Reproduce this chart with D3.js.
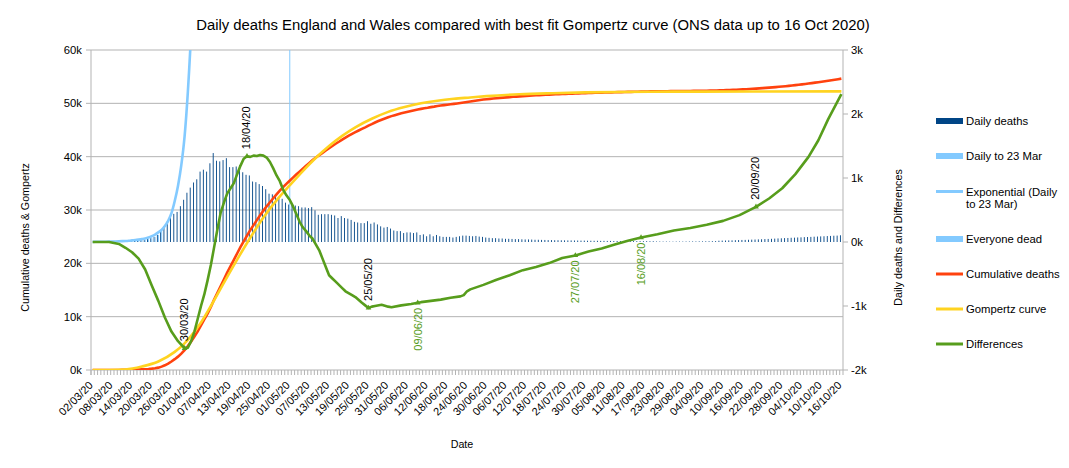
<!DOCTYPE html>
<html>
<head>
<meta charset="utf-8">
<script src="https://cdn.jsdelivr.net/npm/d3@7/dist/d3.min.js"></script>
<style>
  body { margin: 0; background: #fff; }
  svg { font-family: "Liberation Sans", Arial, sans-serif; }
</style>
</head>
<body>
<svg id="chart" width="1069" height="468"></svg>
<script>
// ---- data ----
// one value per day starting 2 Mar 2020
const startDate = new Date(2020, 2, 2);

const dailyDeaths = [
  0, 0, 0, 0, 1, 1, 2, 3, 3, 5, 7, 10, 13, 18, 24, 30,
  30, 45, 60, 80, 110, 190, 250, 320, 390, 440, 470, 560, 660, 770, 850, 930, 980,
  1100, 1130, 1100, 1230, 1390, 1270, 1260, 1280, 1310, 1170, 1170, 1180,
  1200, 1090, 1050, 1040, 945, 935, 905, 875, 825, 755, 745, 715, 695, 675, 615, 585, 580, 570, 560, 540, 540, 530,
  545, 495, 425, 435, 435, 435, 425, 415, 375, 405, 375, 365, 345, 315, 305, 295, 295, 325, 285, 305, 275, 245, 225, 235,
  210, 180, 170, 170, 140, 150, 150, 140, 150, 110, 120, 90, 120, 90, 110, 90, 80, 80, 80, 70, 80, 90, 100,
  100, 95, 90, 95, 85, 80,
  70, 65, 60, 60, 55, 55, 50, 50, 48, 45, 45, 42, 40, 40, 38,
  35, 35, 33, 32, 30, 30, 28, 28, 27, 26, 25, 25, 24, 23, 22, 22,
  20, 20, 19, 19, 18, 18, 17, 17, 16, 16, 15, 15, 15, 14, 14, 14, 13, 13, 13, 12, 12,
  8, 8, 7, 7, 6, 6, 7, 7, 7, 8, 8, 9, 9, 10, 10, 11, 12, 13, 14,
  20, 22, 23, 25, 26, 28, 30, 32, 33, 35,
  37, 39, 41, 43, 46, 48, 50, 53, 56, 58,
  61, 63, 66, 68, 71, 73, 76, 78,
  80, 83, 85, 88, 90, 93, 95, 98, 100, 105
];

// the "Daily to 23 Mar" series covers the first 22 days
const dailyTo23MarDays = 22;

// exponential fitted to daily deaths up to 23 Mar (days 0..31)
const exponentialDaily = [
  2, 3, 3, 4, 5, 6, 7, 9, 11, 13, 16, 20, 25, 30, 37, 45,
  55, 70, 90, 115, 150, 190, 250, 330, 450, 640, 880, 1200, 1650, 2350, 3300, 4600
];

// "Everyone dead" bar
const everyoneDeadDay = 60;
const everyoneDeadValue = 59800000;

// Gompertz curve (cumulative), sampled days
const gompertzDays   = [0, 5, 10, 15, 20, 25, 28, 30, 33, 36, 40, 44, 48, 52, 56, 60, 64, 68, 72, 76, 80, 85, 90, 95, 100, 105, 110, 115, 120, 130, 140, 150, 160, 170, 185, 200, 228];
const gompertzValues = [0, 10, 100, 650, 1600, 3400, 5000, 6400, 8900, 12000, 16400, 20700, 24800, 28600, 31800, 34600, 37300, 39800, 42000, 43900, 45500, 47100, 48400, 49300, 50000, 50500, 50850, 51100, 51350, 51700, 51900, 52050, 52120, 52170, 52200, 52220, 52250];

// Differences (cumulative minus Gompertz), sampled days
const diffDays = [0, 5, 8, 10, 12, 14, 16, 18, 20, 22, 24, 26, 28, 29, 30, 31, 32, 33, 34, 35, 36, 37, 38, 39, 40, 41, 42, 43, 44, 45, 46, 47, 48, 49, 50, 51, 52, 53, 54, 55, 56, 57, 58, 59, 60, 61, 62, 63, 64, 65, 66, 67, 68, 69, 70, 71, 72, 73, 74, 76, 77, 79, 80, 82, 83, 84, 85, 86, 88, 90, 91, 94, 97, 99, 100, 103, 106, 109, 112, 113, 114, 115, 119, 123, 127, 131, 135, 139, 143, 147, 151, 155, 159, 163, 167, 172, 177, 182, 187, 192, 197, 202, 206, 210, 214, 218, 221, 224, 228];
const diffValues = [0, 0, -30, -90, -160, -260, -430, -680, -920, -1180, -1400, -1550, -1660, -1650, -1550, -1400, -1200, -1000, -820, -600, -360, -80, 200, 460, 620, 760, 840, 920, 1060, 1190, 1300, 1340, 1330, 1350, 1345, 1360, 1350, 1320, 1250, 1150, 1040, 950, 820, 730, 660, 560, 440, 320, 230, 170, 100, 50, -40, -130, -260, -390, -520, -570, -620, -720, -770, -830, -860, -950, -990, -1030, -1010, -1000, -980, -1010, -1020, -990, -970, -950, -940, -920, -900, -870, -850, -830, -770, -740, -670, -590, -520, -440, -390, -330, -250, -210, -150, -100, -40, 20, 70, 120, 180, 220, 270, 330, 420, 550, 680, 840, 1060, 1330, 1590, 1920, 2310];

// labelled points on the Differences line
const labelAboveDays = [28, 47, 84, 202];
const labelBelowDays = [99, 147, 167];

const leftTicks  = [0, 10000, 20000, 30000, 40000, 50000, 60000];
const rightTicks = [-2000, -1000, 0, 1000, 2000, 3000];
const xLabelEvery = 6;

const legendItems = [
  { name: ["Daily deaths"], type: "rect", color: "#004586" },
  { name: ["Daily to 23 Mar"], type: "rect", color: "#83caff" },
  { name: ["Exponential (Daily", "to 23 Mar)"], type: "line", color: "#83caff" },
  { name: ["Everyone dead"], type: "rect", color: "#83caff" },
  { name: ["Cumulative deaths"], type: "line", color: "#ff420e" },
  { name: ["Gompertz curve"], type: "line", color: "#ffd320" },
  { name: ["Differences"], type: "line", color: "#579d1c" }
];

// ---- derived ----
const nDays = dailyDeaths.length;
const dates = d3.range(nDays).map(i => d3.timeDay.offset(startDate, i));
const fmt = d3.timeFormat("%d/%m/%y");
let run = 0;
const cumulative = dailyDeaths.map(v => (run += v));

// ---- layout ----
const svg = d3.select("#chart");
const plot = { left: 91, right: 843, top: 50, bottom: 370 };
const gridColor = "#b3b3b3";

const x = d3.scaleLinear().domain([-0.5, nDays - 0.5]).range([plot.left, plot.right]);
const yL = d3.scaleLinear().domain([0, 60000]).range([plot.bottom, plot.top]);
const yR = d3.scaleLinear().domain([-2000, 3000]).range([plot.bottom, plot.top]);

svg.append("defs").append("clipPath").attr("id", "plotClip")
  .append("rect")
  .attr("x", plot.left).attr("y", plot.top)
  .attr("width", plot.right - plot.left).attr("height", plot.bottom - plot.top);

// title
svg.append("text")
  .attr("x", 533).attr("y", 30)
  .attr("text-anchor", "middle")
  .style("font-size", "14.85px")
  .text("Daily deaths England and Wales compared with best fit Gompertz curve (ONS data up to 16 Oct 2020)");

// grid (left axis)
svg.append("g").selectAll("line")
  .data(leftTicks).enter().append("line")
  .attr("x1", plot.left - 5).attr("x2", plot.right)
  .attr("y1", d => yL(d)).attr("y2", d => yL(d))
  .attr("stroke", gridColor).attr("stroke-width", 1);

// left axis line + labels
svg.append("line")
  .attr("x1", plot.left).attr("x2", plot.left)
  .attr("y1", plot.top).attr("y2", plot.bottom + 5)
  .attr("stroke", gridColor);
svg.append("g").selectAll("text")
  .data(leftTicks).enter().append("text")
  .attr("x", 82).attr("y", d => yL(d) + 4)
  .attr("text-anchor", "end")
  .style("font-size", "11.3px")
  .text(d => d / 1000 + "k");

// right axis
svg.append("line")
  .attr("x1", plot.right).attr("x2", plot.right)
  .attr("y1", plot.top).attr("y2", plot.bottom)
  .attr("stroke", gridColor);
svg.append("g").selectAll("line")
  .data(rightTicks).enter().append("line")
  .attr("x1", plot.right).attr("x2", plot.right + 5)
  .attr("y1", d => yR(d)).attr("y2", d => yR(d))
  .attr("stroke", gridColor);
svg.append("g").selectAll("text")
  .data(rightTicks).enter().append("text")
  .attr("x", 851).attr("y", d => yR(d) + 4)
  .style("font-size", "11.3px")
  .text(d => d / 1000 + "k");

// x axis: ticks every day, labels every 6 days
svg.append("g").selectAll("line")
  .data(d3.range(nDays + 1)).enter().append("line")
  .attr("x1", d => x(d - 0.5)).attr("x2", d => x(d - 0.5))
  .attr("y1", plot.bottom).attr("y2", plot.bottom + 5)
  .attr("stroke", gridColor);
svg.append("g").selectAll("text")
  .data(d3.range(0, nDays, xLabelEvery)).enter().append("text")
  .attr("text-anchor", "end")
  .attr("transform", d => `translate(${x(d) + 1},386) rotate(-45)`)
  .style("font-size", "11px")
  .text(d => fmt(dates[d]));

// axis titles
svg.append("text")
  .attr("transform", "translate(28.5,237.5) rotate(-90)")
  .attr("text-anchor", "middle")
  .style("font-size", "10.7px")
  .text("Cumulative deaths & Gompertz");
svg.append("text")
  .attr("transform", "translate(902,237.5) rotate(-90)")
  .attr("text-anchor", "middle")
  .style("font-size", "10.7px")
  .text("Daily deaths and Differences");
svg.append("text")
  .attr("x", 462).attr("y", 448)
  .attr("text-anchor", "middle")
  .style("font-size", "10.7px")
  .text("Date");

// ---- marks ----
const marks = svg.append("g").attr("clip-path", "url(#plotClip)");

// daily deaths bars
marks.append("g").selectAll("rect")
  .data(dailyDeaths).enter().append("rect")
  .attr("x", (d, i) => x(i) - 1.4)
  .attr("width", 0.9)
  .attr("y", d => yR(d))
  .attr("height", d => yR(0) - yR(d))
  .attr("fill", "#004586");

// daily to 23 Mar bars
marks.append("g").selectAll("rect")
  .data(dailyDeaths.slice(0, dailyTo23MarDays)).enter().append("rect")
  .attr("x", (d, i) => x(i) - 0.4)
  .attr("width", 1)
  .attr("y", d => yR(d))
  .attr("height", d => yR(0) - yR(d))
  .attr("fill", "#83caff");

// everyone dead bar
marks.append("rect")
  .attr("x", x(everyoneDeadDay) - 0.4)
  .attr("width", 1)
  .attr("y", Math.max(yR(everyoneDeadValue), -10))
  .attr("height", yR(0) - Math.max(yR(everyoneDeadValue), -10))
  .attr("fill", "#83caff");

// exponential line
marks.append("path")
  .datum(exponentialDaily)
  .attr("fill", "none").attr("stroke", "#83caff").attr("stroke-width", 2.6)
  .attr("d", d3.line().x((d, i) => x(i)).y(d => yR(d)).curve(d3.curveMonotoneX));

// cumulative
marks.append("path")
  .datum(cumulative)
  .attr("fill", "none").attr("stroke", "#ff420e").attr("stroke-width", 2.6)
  .attr("d", d3.line().x((d, i) => x(i)).y(d => yL(d)));

// gompertz
marks.append("path")
  .datum(gompertzDays.map((d, i) => [d, gompertzValues[i]]))
  .attr("fill", "none").attr("stroke", "#ffd320").attr("stroke-width", 2.6)
  .attr("d", d3.line().x(d => x(d[0])).y(d => yL(d[1])).curve(d3.curveMonotoneX));

// differences
const diffPts = diffDays.map((d, i) => [d, diffValues[i]]);
marks.append("path")
  .datum(diffPts)
  .attr("fill", "none").attr("stroke", "#579d1c").attr("stroke-width", 2.6)
  .attr("stroke-linejoin", "round")
  .attr("d", d3.line().x(d => x(d[0])).y(d => yR(d[1])));

// labels on differences
const diffAt = day => diffValues[diffDays.indexOf(day)];
const tri = d3.symbol().type(d3.symbolTriangle).size(14);
svg.append("g").selectAll("path")
  .data(labelAboveDays.concat(labelBelowDays)).enter().append("path")
  .attr("d", tri)
  .attr("transform", d => `translate(${x(d)},${yR(diffAt(d))})`)
  .attr("fill", "#579d1c");

svg.append("g").selectAll("text")
  .data(labelAboveDays).enter().append("text")
  .attr("transform", d => `translate(${x(d) + 3.5},${yR(diffAt(d)) - 7}) rotate(-90)`)
  .style("font-size", "11px")
  .attr("fill", "#000")
  .text(d => fmt(dates[d]));

svg.append("g").selectAll("text")
  .data(labelBelowDays).enter().append("text")
  .attr("transform", d => `translate(${x(d) + 4},${yR(diffAt(d)) + 5}) rotate(-90)`)
  .attr("text-anchor", "end")
  .style("font-size", "11px")
  .attr("fill", "#579d1c")
  .text(d => fmt(dates[d]));

// ---- legend ----
const legendY = [121, 156, 191.5, 239, 274, 309, 344];
const legend = svg.append("g");
legendItems.forEach((item, k) => {
  const cy = legendY[k];
  if (item.type === "rect") {
    legend.append("rect")
      .attr("x", 936).attr("y", cy - 3).attr("width", 27).attr("height", 6)
      .attr("fill", item.color);
  } else {
    legend.append("line")
      .attr("x1", 936).attr("x2", 963).attr("y1", cy).attr("y2", cy)
      .attr("stroke", item.color).attr("stroke-width", 3);
  }
  item.name.forEach((line, j) => {
    legend.append("text")
      .attr("x", 966).attr("y", cy + 4 + j * 12.5)
      .style("font-size", "11.3px")
      .text(line);
  });
});
</script>
</body>
</html>
